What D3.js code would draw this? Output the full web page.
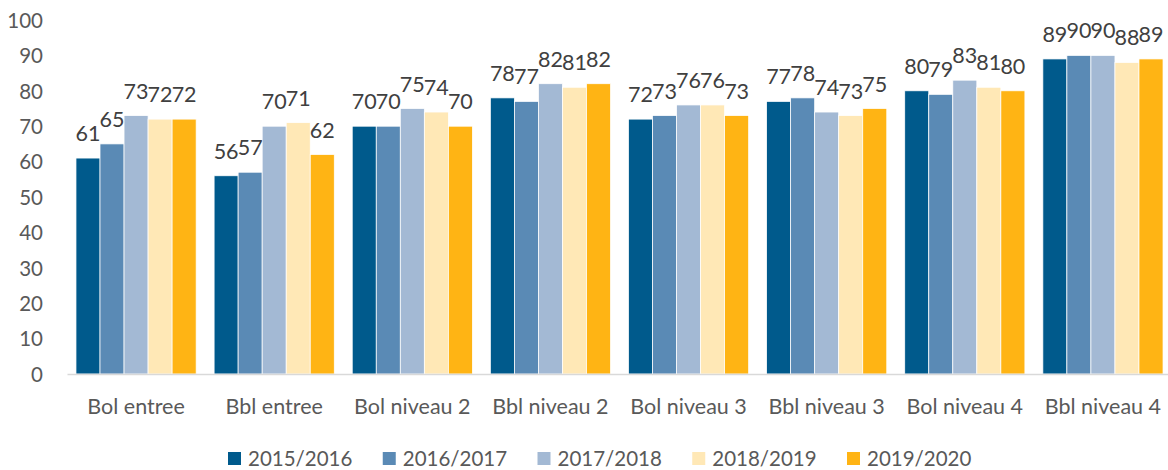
<!DOCTYPE html>
<html><head><meta charset="utf-8">
<script src="https://cdn.jsdelivr.net/npm/d3@7"></script>
<style>body{margin:0;background:#fff}svg{display:block}</style>
</head><body><svg id="c" width="1168" height="470"></svg>
<script>
const categories = ["Bol entree","Bbl entree","Bol niveau 2","Bbl niveau 2","Bol niveau 3","Bbl niveau 3","Bol niveau 4","Bbl niveau 4"];
const seriesNames = ["2015/2016","2016/2017","2017/2018","2018/2019","2019/2020"];
const s2015 = [61,56,70,78,72,77,80,89];
const s2016 = [65,57,70,77,73,78,79,90];
const s2017 = [73,70,75,82,76,74,83,90];
const s2018 = [72,71,74,81,76,73,81,88];
const s2019 = [72,62,70,82,73,75,80,89];
const yTicks = [0,10,20,30,40,50,60,70,80,90,100];
const colors = ["#005A8C","#5A8AB5","#A3B9D4","#FFE8B6","#FFB414"];
const seriesValues = [s2015,s2016,s2017,s2018,s2019];

const svg = d3.select("#c");
const font = "Lato, 'Open Sans', sans-serif";
const mLeft = 67, mRight = 1172, mTop = 20, mBottom = 374;
const x0 = d3.scaleBand().domain(categories).range([mLeft,mRight]).paddingInner(0.13).paddingOuter(0.065);
const x1 = d3.scaleBand().domain(seriesNames).range([0,x0.bandwidth()]);
const y = d3.scaleLinear().domain([0,100]).range([mBottom,mTop]);

// y axis labels
const yAxis = d3.axisLeft(y).tickValues(yTicks).tickSize(0).tickPadding(0);
const ya = svg.append("g").attr("transform",`translate(${43},0)`).call(yAxis);
ya.select(".domain").remove();
ya.selectAll("text").attr("font-family",font).attr("font-size",20.5).attr("fill","#595959").attr("dy","0.36em");

// bars
const groups = svg.append("g").selectAll("g").data(categories).join("g")
  .attr("transform",d=>`translate(${x0(d)},0)`);
seriesNames.forEach((s,si)=>{
  groups.append("rect")
    .attr("x",(d,ci)=>x1(s))
    .attr("y",(d,ci)=>y(seriesValues[si][ci]))
    .attr("width",x1.bandwidth())
    .attr("height",(d,ci)=>y(0)-y(seriesValues[si][ci]))
    .attr("fill",colors[si])
    .attr("stroke","#ffffff").attr("stroke-width",0.75);
});
// baseline
const xa = svg.append("g").attr("transform",`translate(0,${mBottom})`).call(d3.axisBottom(x0).tickSize(0).tickPadding(25));
xa.select(".domain").attr("stroke","#D9D9D9").attr("stroke-width",1.5);
xa.selectAll("text").attr("font-family",font).attr("font-size",21.5).attr("fill","#595959");

// labels
seriesNames.forEach((s,si)=>{
  groups.append("text")
    .attr("x",x1(s)+x1.bandwidth()/2)
    .attr("y",(d,ci)=>y(seriesValues[si][ci])-17)
    .attr("text-anchor","middle")
    .attr("font-family",font).attr("font-size",21.5).attr("fill","#404040")
    .text((d,ci)=>seriesValues[si][ci]);
});

// legend
const legend = svg.append("g").attr("transform","translate(228,452)");
const lx = d3.scalePoint().domain(seriesNames).range([0,619]);
seriesNames.forEach((s,si)=>{
  const g = legend.append("g").attr("transform",`translate(${lx(s)},0)`);
  g.append("rect").attr("width",13).attr("height",13).attr("fill",colors[si]);
  g.append("text").attr("x",20).attr("y",7).attr("dy","0.36em")
   .attr("font-family",font).attr("font-size",20.5).attr("fill","#595959").text(s);
});
</script></body></html>
